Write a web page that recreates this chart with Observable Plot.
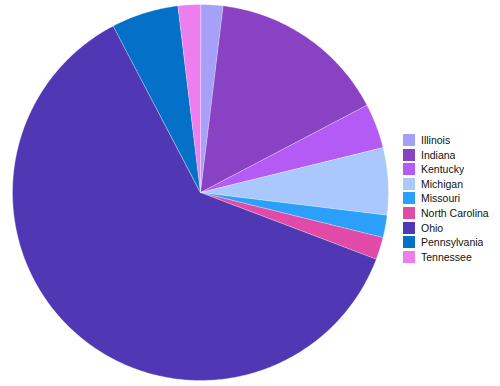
<!DOCTYPE html>
<html><head><meta charset="utf-8">
<script src="https://cdn.jsdelivr.net/npm/d3@7"></script>
<script src="https://cdn.jsdelivr.net/npm/@observablehq/plot@0.6"></script>
<style>
body{margin:0;background:#fff;font-family:"Liberation Sans",Arial,sans-serif;}
#wrap{position:relative;width:500px;height:386px;}
#legend{position:absolute;left:403px;top:133px;}
#legend, #legend *{font-family:"Liberation Sans",Arial,sans-serif !important;font-size:10.5px !important;color:#111;line-height:12px !important;}
#legend [class$="-swatch"]{margin:0 !important;padding:0 !important;height:14.55px !important;box-sizing:border-box;}
#legend [class$="-swatches"]{margin:0 !important;}
#legend svg{margin-right:6px !important;}
</style></head><body><div id="wrap"><div id="chart"></div><div id="legend"></div></div>
<script>
const states=["Illinois","Indiana","Kentucky","Michigan","Missouri","North Carolina","Ohio","Pennsylvania","Tennessee"];
const counts=[1,8,2,3,1,1,32,3,1];
const colors=["#a6a0f8","#8a42c4","#b45af5","#aac8fc","#2aa0fa","#e24aa8","#5038b5","#0570c8","#ec7ef0"];

const arcs=d3.pie().sort(null).value(d=>d)(counts);
const pts=[];
arcs.forEach((a,i)=>{
  pts.push({state:states[i],x:0,y:0});
  const n=Math.max(2,Math.ceil((a.endAngle-a.startAngle)/0.01));
  for(let k=0;k<=n;k++){
    const t=a.startAngle+(a.endAngle-a.startAngle)*k/n;
    pts.push({state:states[i],x:Math.sin(t),y:Math.cos(t)});
  }
});
const chart=Plot.plot({
  width:500,height:386,
  marginLeft:12,marginRight:112,marginTop:4,marginBottom:6,
  x:{domain:[-1,1],axis:null},
  y:{domain:[-1,1],axis:null},
  color:{domain:states,range:colors},
  marks:[
    Plot.line(pts,{x:"x",y:"y",z:"state",fill:"state",stroke:"white",strokeWidth:0.6,strokeOpacity:0.5,curve:"linear-closed"})
  ]
});
document.getElementById("chart").append(chart);
const leg=Plot.legend({color:{domain:states,range:colors},legend:"swatches",columns:1,swatchSize:12});
document.getElementById("legend").append(leg);
</script></body></html>
